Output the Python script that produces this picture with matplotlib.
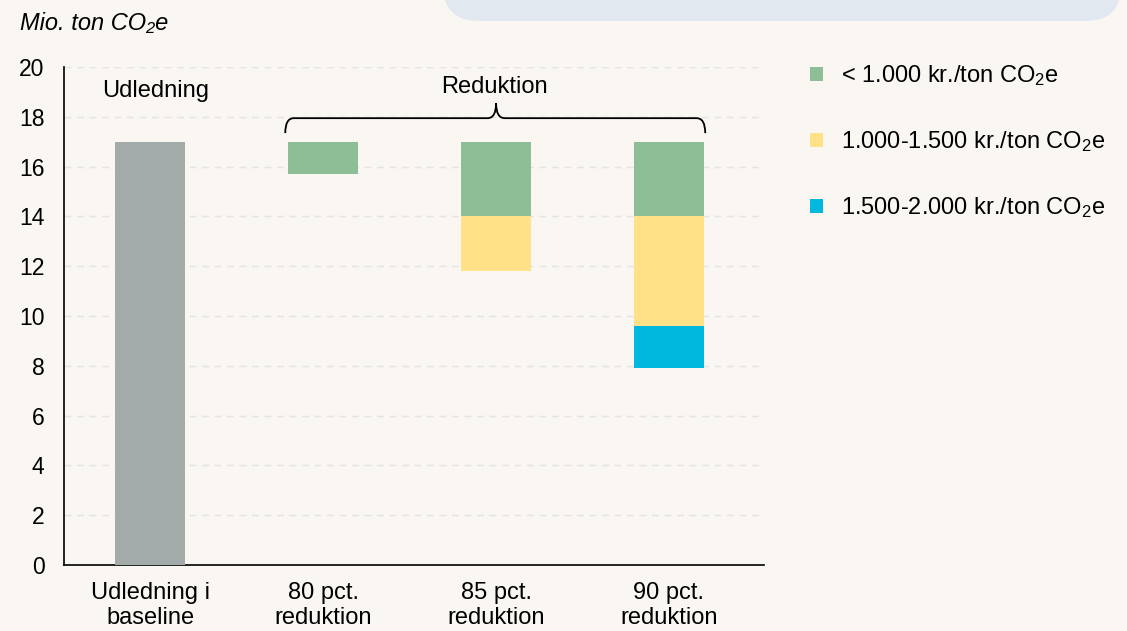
import matplotlib
matplotlib.use("Agg")
import matplotlib.pyplot as plt
from matplotlib.patches import Patch, FancyBboxPatch, PathPatch
from matplotlib.path import Path

# data
categories = ["Udledning i\nbaseline", "80 pct.\nreduktion", "85 pct.\nreduktion", "90 pct.\nreduktion"]
baseline = 17.0
red_pos = [1, 2, 3]
cost_low = [1.3, 3.0, 3.0]    # < 1.000 kr./ton
cost_mid = [0.0, 2.2, 4.4]    # 1.000-1.500 kr./ton
cost_high = [0.0, 0.0, 1.7]   # 1.500-2.000 kr./ton
labels = ["< 1.000 kr./ton CO$_2$e", "1.000-1.500 kr./ton CO$_2$e", "1.500-2.000 kr./ton CO$_2$e"]
colors = ["#8dbe96", "#ffe187", "#00b8de"]
yticks = list(range(0, 21, 2))

plt.rcParams["font.family"] = ["Liberation Sans", "DejaVu Sans"]
plt.rcParams["mathtext.fontset"] = "custom"
plt.rcParams["mathtext.rm"] = "Liberation Sans"
plt.rcParams["mathtext.it"] = "Liberation Sans:italic"

bg = "#faf6f1"
fig = plt.figure(figsize=(11.27, 6.31), dpi=100, facecolor=bg)
ax = fig.add_axes([0.0568, 0.1046, 0.6211, 0.789], facecolor=bg)

# top box
box = FancyBboxPatch((0.393, 0.9667), 0.602, 0.2, boxstyle="round,pad=0,rounding_size=0.032",
                     transform=fig.transFigure, facecolor="#e1e8ef", edgecolor="none",
                     mutation_aspect=1127 / 631)
fig.patches.append(box)

w = 0.405
ax.bar(0, baseline, width=w, color="#a3aaaa", zorder=3)
top = [baseline] * 3
for vals, c in zip([cost_low, cost_mid, cost_high], colors):
    bottoms = [t - v for t, v in zip(top, vals)]
    ax.bar(red_pos, vals, width=w, bottom=bottoms, color=c, zorder=3)
    top = bottoms

ax.set_xlim(-0.5, 3.55)
ax.set_ylim(0, 20)
ax.set_yticks(yticks)
ax.set_xticks(range(4))
ax.set_xticklabels(categories, fontsize=17, linespacing=1.2)
ax.tick_params(axis="y", length=0, pad=14, labelsize=16.5)
ax.tick_params(axis="x", length=0, pad=12)
for t in yticks[1:]:
    ax.axhline(t, color="#e4e4e4", lw=1, ls=(0, (5, 4)), zorder=1)
for s in ["top", "right"]:
    ax.spines[s].set_visible(False)
ax.spines["left"].set_linewidth(1.2)
ax.spines["bottom"].set_linewidth(1.2)

# brace over reductions
x0, x1, xm = 0.78, 3.21, 2.0
yl, yb, yt, d = 17.95, 17.35, 18.55, 0.05
verts = [(x0, yb), (x0, yl), (x0 + d, yl), (xm - d, yl), (xm, yl), (xm, yt),
         (xm, yl), (xm + d, yl), (x1 - d, yl), (x1, yl), (x1, yb)]
codes = [Path.MOVETO, Path.CURVE3, Path.CURVE3, Path.LINETO, Path.CURVE3, Path.CURVE3,
         Path.CURVE3, Path.CURVE3, Path.LINETO, Path.CURVE3, Path.CURVE3]
ax.add_patch(PathPatch(Path(verts, codes), facecolor="none", edgecolor="black", lw=1.3, zorder=4))

ax.text(0.03, 19.05, "Udledning", ha="center", va="center", fontsize=17)
ax.text(1.99, 19.2, "Reduktion", ha="center", va="center", fontsize=17)

fig.text(0.018, 0.963, "Mio. ton CO₂e", fontsize=17, style="italic", va="center")

handles = [Patch(facecolor=c, edgecolor="none") for c in colors]
fig.legend(handles, labels, loc="upper left", bbox_to_anchor=(0.71, 0.915), frameon=False,
           fontsize=17, handlelength=0.55, handleheight=0.55, handletextpad=0.8,
           labelspacing=1.75, borderaxespad=0)

fig.savefig("out.png", dpi=100, facecolor=bg)
